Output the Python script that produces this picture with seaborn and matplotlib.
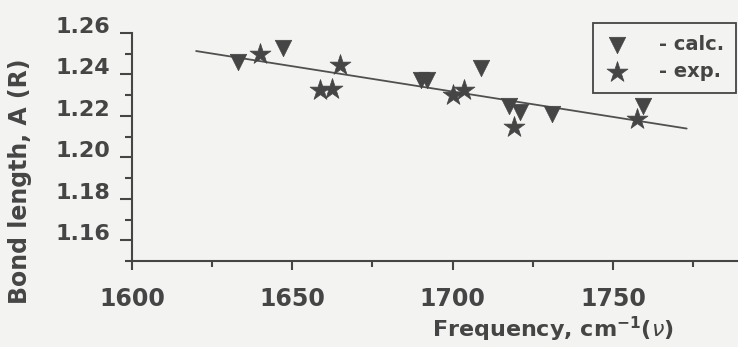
import matplotlib
matplotlib.use("Agg")
import matplotlib.pyplot as plt
import matplotlib.transforms as mtransforms
from matplotlib.ticker import MultipleLocator, FormatStrFormatter
import seaborn as sns

# values
calc_freq = [1633, 1647, 1690, 1692, 1709, 1717.5, 1721, 1731, 1759.5]
calc_len = [1.2458, 1.2526, 1.2375, 1.2375, 1.2433, 1.2250, 1.2218, 1.2210, 1.2250]
exp_freq = [1640, 1658.5, 1662.5, 1665, 1700, 1703.5, 1719, 1757.5]
exp_len = [1.2498, 1.2323, 1.2332, 1.2445, 1.2299, 1.2327, 1.2145, 1.2186]
fit_freq = [1620, 1773]
fit_len = [1.2513, 1.2139]

x_ticks = [1600, 1650, 1700, 1750]
y_ticks = [1.16, 1.18, 1.20, 1.22, 1.24, 1.26]

sns.set_style("ticks")
plt.rcParams["font.family"] = ["DejaVu Sans"]
plt.rcParams["mathtext.fontset"] = "dejavusans"

ink = "#454545"
paper = "#f3f3f1"

fig = plt.figure(figsize=(7.38, 3.47), dpi=100, facecolor=paper)
ax = fig.add_axes([132 / 738, 86 / 347, 606 / 738, 228 / 347])
ax.set_facecolor(paper)

sns.lineplot(x=fit_freq, y=fit_len, ax=ax, color="#505050", linewidth=1.3)
sns.scatterplot(x=calc_freq, y=calc_len, ax=ax, marker="v", s=140,
                color=ink, edgecolor=ink, linewidth=0.5, label="- calc.", zorder=3)
sns.scatterplot(x=exp_freq, y=exp_len, ax=ax, marker="*", s=250,
                color=ink, edgecolor=ink, linewidth=0.5, label="- exp.", zorder=3)

ax.set_xlim(1600, 1789)
ax.set_ylim(1.15, 1.26)
ax.set_xticks(x_ticks)
ax.set_yticks(y_ticks)
ax.xaxis.set_minor_locator(MultipleLocator(25))
ax.yaxis.set_minor_locator(MultipleLocator(0.01))
ax.yaxis.set_major_formatter(FormatStrFormatter("%.2f"))

sns.despine(ax=ax)
for side in ["left", "bottom"]:
    ax.spines[side].set_linewidth(1.5)
    ax.spines[side].set_color(ink)

ax.tick_params(axis="y", which="major", direction="out", length=8.6, width=1.5,
               color=ink, pad=7, labelsize=16, labelcolor=ink)
ax.tick_params(axis="y", which="minor", direction="out", length=5, width=1.5, color=ink)
ax.tick_params(axis="x", which="major", direction="out", length=6.5, width=1.5,
               color=ink, pad=12, labelsize=17, labelcolor=ink)
ax.tick_params(axis="x", which="minor", direction="out", length=4.3, width=1.5, color=ink)
for lab in ax.get_xticklabels() + ax.get_yticklabels():
    lab.set_fontweight("bold")

# y labels sit a little above their ticks in the scan
shift = mtransforms.ScaledTranslation(0, 8 / 100, fig.dpi_scale_trans)
for lab in ax.get_yticklabels():
    lab.set_transform(lab.get_transform() + shift)

ax.set_xlabel(r"Frequency, cm$^{\mathbf{-1}}$($\nu$)", fontsize=16,
              fontweight="bold", color=ink, va="top")
ax.xaxis.set_label_coords(0.695, -0.235)
ax.set_ylabel("Bond length, A (R)", fontsize=17, fontweight="bold", color=ink)
ax.yaxis.set_label_coords(-0.165, 0.35)

leg = ax.legend(loc="upper left", bbox_to_anchor=(593 / 738, 1 - 23 / 347),
                bbox_transform=fig.transFigure, frameon=True, fancybox=False,
                framealpha=1, facecolor=paper, edgecolor=ink,
                prop={"weight": "bold", "size": 14}, handlelength=1.3,
                handletextpad=1.5, labelspacing=0.45, borderpad=0.6,
                borderaxespad=0)
leg.get_frame().set_linewidth(1.3)
for t in leg.get_texts():
    t.set_color(ink)

fig.savefig("out.png", dpi=100, facecolor=paper)
